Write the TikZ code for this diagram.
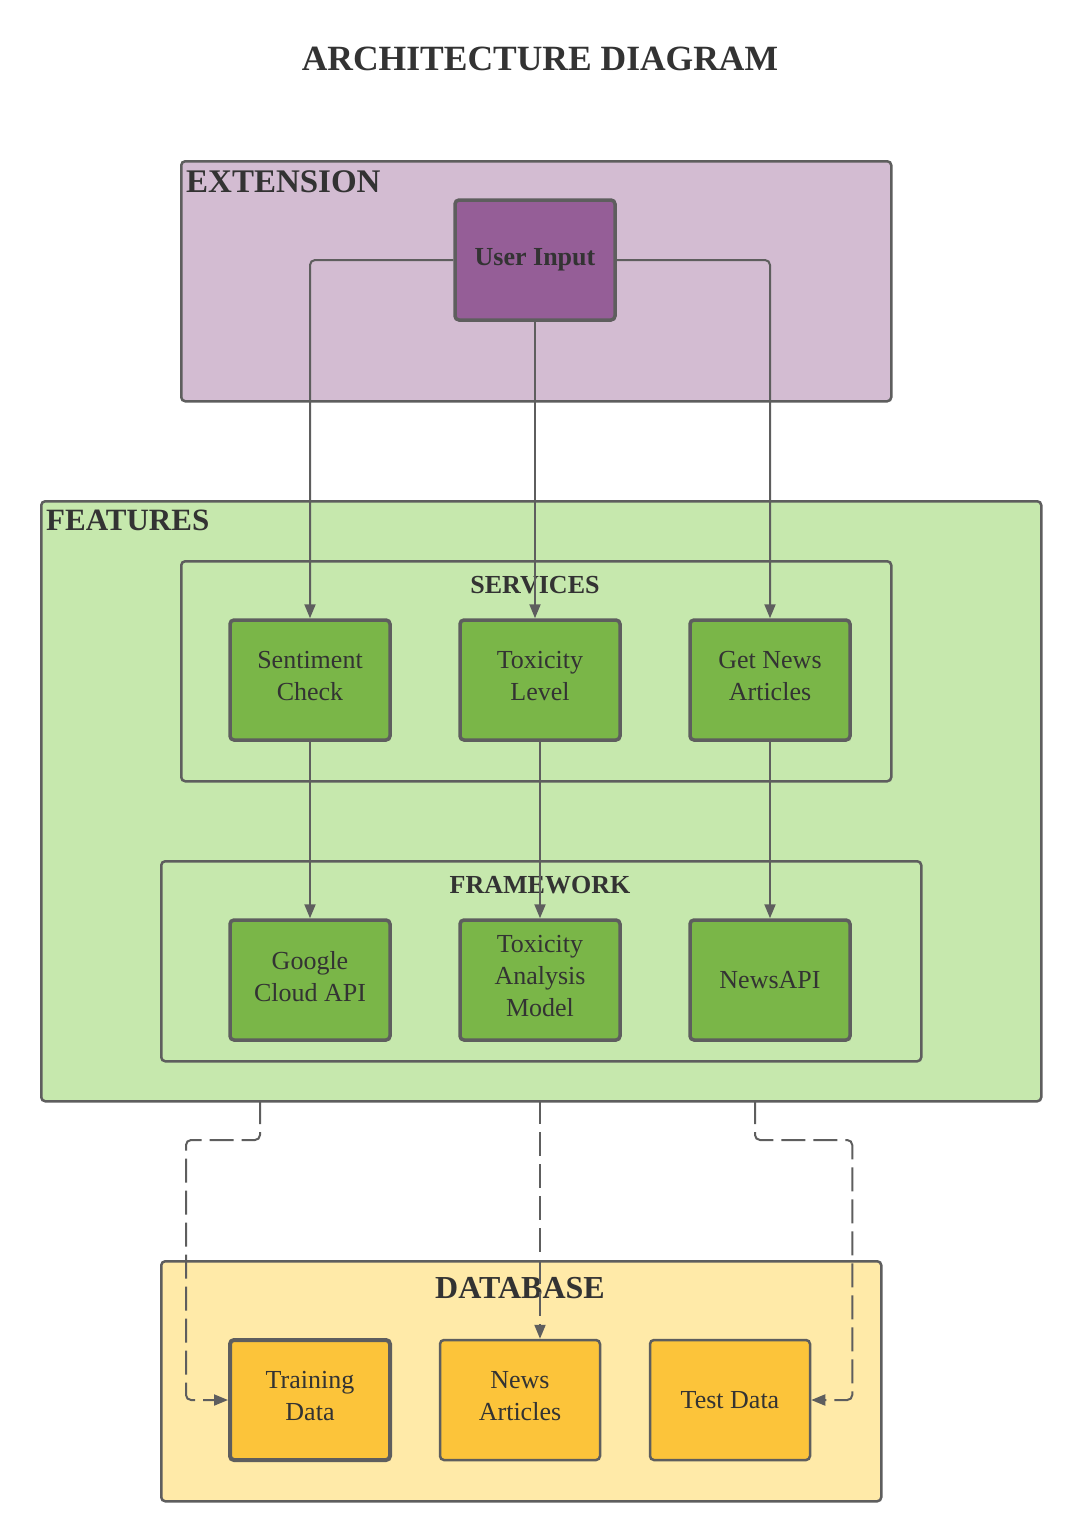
\documentclass[tikz,border=0pt]{standalone}
\usepackage{fontspec}
\setmainfont{Liberation Serif}
\usetikzlibrary{arrows.meta}
\definecolor{edge}{HTML}{5E5E5E}
\definecolor{ink}{HTML}{333333}
\definecolor{extfill}{HTML}{D3BCD2}
\definecolor{uifill}{HTML}{955E97}
\definecolor{featfill}{HTML}{C6E8AD}
\definecolor{greenbox}{HTML}{7AB648}
\definecolor{dbfill}{HTML}{FFEAA8}
\definecolor{yellowbox}{HTML}{FCC43A}
\begin{document}
\begin{tikzpicture}[x=1pt,y=-1pt,
    group/.style={draw=edge,line width=2.5pt,rounded corners=4pt,inner sep=0pt,anchor=north west},
    box/.style={draw=edge,line width=3.5pt,rounded corners=4pt,minimum width=160pt,minimum height=120pt,inner sep=2pt,align=center,text=ink,font=\fontsize{26}{32}\selectfont},
    lift/.style={text depth=8pt},
    head/.style={text=ink,font=\bfseries\fontsize{32}{38}\selectfont,inner sep=0pt,anchor=base west},
    subhead/.style={text=ink,font=\bfseries\fontsize{26}{30}\selectfont,inner sep=0pt,anchor=base},
    flow/.style={draw=edge,line width=2pt,rounded corners=5pt,-{Triangle[length=14pt,width=11pt]}},
    store/.style={flow,dash pattern=on 24pt off 8pt}]
  \useasboundingbox (0,0) rectangle (1080,1540);
  \path
    (540,70) node[anchor=base,text=ink,font=\bfseries\fontsize{35.5}{40}\selectfont] (title) {ARCHITECTURE DIAGRAM}
    (180,160) node[group,fill=extfill,minimum width=710pt,minimum height=240pt] (ext) {}
    (40,500) node[group,fill=featfill,minimum width=1000pt,minimum height=600pt] (feat) {}
    (180,560) node[group,fill=featfill,minimum width=710pt,minimum height=220pt] (serv) {}
    (160,860) node[group,fill=featfill,minimum width=760pt,minimum height=200pt] (frame) {}
    (160,1260) node[group,fill=dbfill,minimum width=720pt,minimum height=240pt] (db) {};
  \path
    (186,192) node[head,font=\bfseries\fontsize{33}{38}\selectfont] (extlabel) {EXTENSION}
    (46,530) node[head,font=\bfseries\fontsize{31}{36}\selectfont] (featlabel) {FEATURES}
    (535,593) node[subhead] (servlabel) {SERVICES}
    (540,893) node[subhead] (framelabel) {FRAMEWORK}
    (520,1298) node[subhead,font=\bfseries\fontsize{32}{38}\selectfont] (dblabel) {DATABASE};
  \path
    (535,260) node[box,fill=uifill,font=\bfseries\fontsize{26}{32}\selectfont] (ui) {User Input}
    (310,680) node[box,lift,fill=greenbox] (sc) {Sentiment\\Check}
    (540,680) node[box,lift,fill=greenbox] (tl) {Toxicity\\Level}
    (770,680) node[box,lift,fill=greenbox] (gn) {Get News\\Articles}
    (310,980) node[box,lift,fill=greenbox] (gc) {Google\\Cloud API}
    (540,980) node[box,lift,fill=greenbox] (tm) {Toxicity\\Analysis\\Model}
    (770,980) node[box,fill=greenbox] (na) {NewsAPI}
    (310,1400) node[box,lift,fill=yellowbox,line width=4pt] (td) {Training\\Data}
    (520,1400) node[box,lift,fill=yellowbox,line width=2.5pt] (nw) {News\\Articles}
    (730,1400) node[box,fill=yellowbox,line width=2.5pt] (te) {Test Data};
  \coordinate (f1) at (260,1100);
  \coordinate (f2) at (540,1100);
  \coordinate (f3) at (755,1100);
  \begin{scope}
    \draw[flow] (ui.west) -| (sc.north);
    \draw[flow] (ui.south) -- (ui.south |- tl.north);
    \draw[flow] (ui.east) -| (gn.north);
    \draw[flow] (sc.south) -- (gc.north);
    \draw[flow] (tl.south) -- (tm.north);
    \draw[flow] (gn.south) -- (na.north);
    \draw[store] (f1) -- ++(0,40) -| ([xshift=-42pt]td.west) -- (td.west);
    \draw[store] (f2) -- (f2 |- nw.north);
    \draw[store] (f3) -- ++(0,40) -| ([xshift=41pt]te.east) -- (te.east);
  \end{scope}
\end{tikzpicture}
\end{document}
